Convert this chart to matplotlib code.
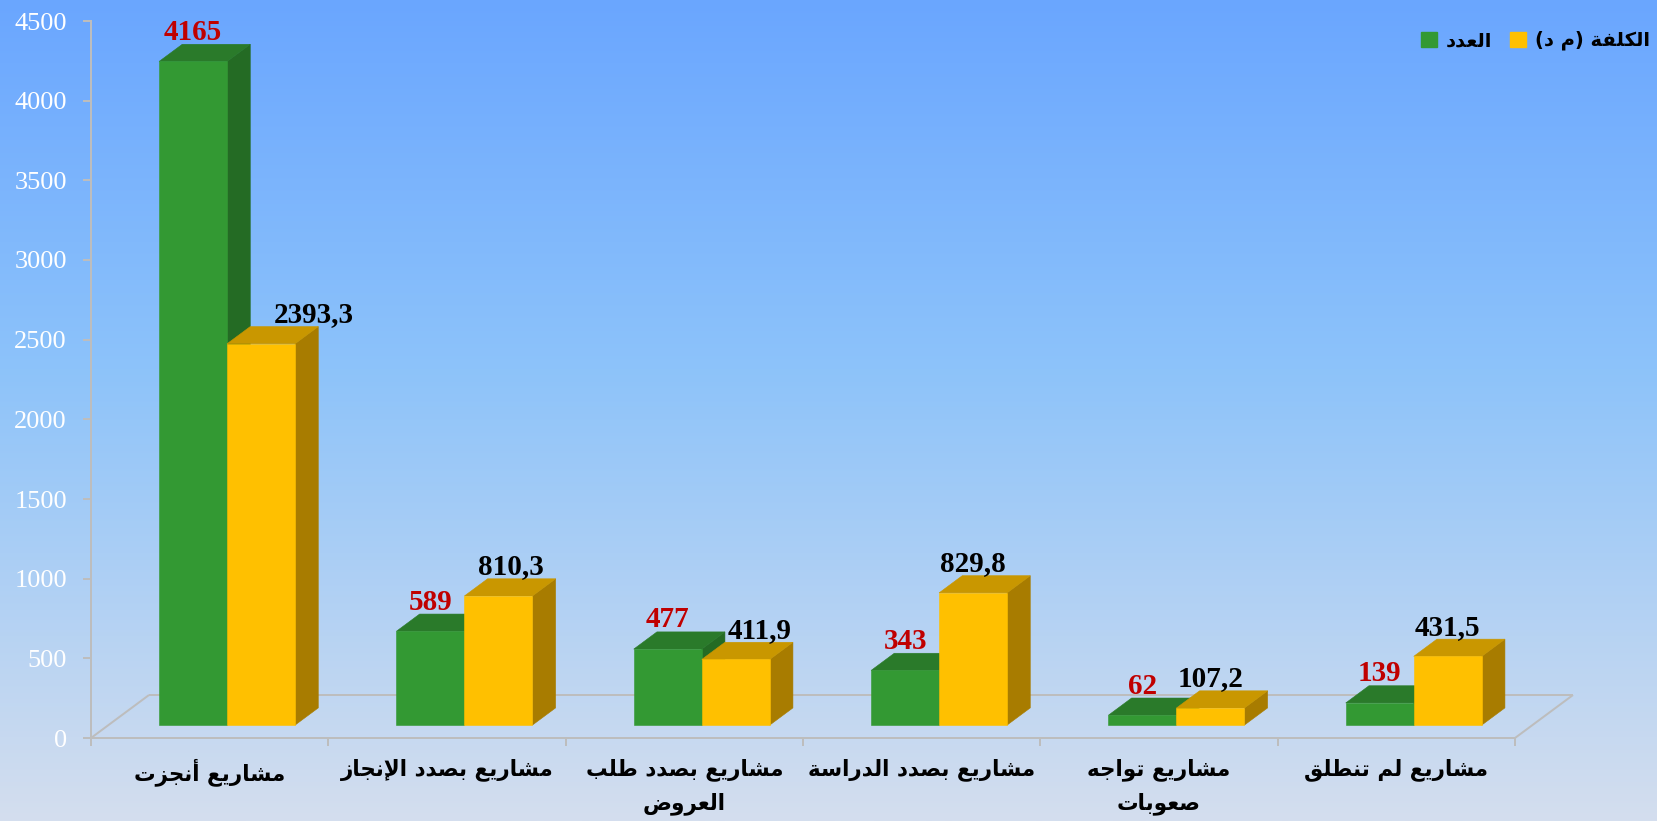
import numpy as np
import matplotlib
matplotlib.use("Agg")
import matplotlib.pyplot as plt
from matplotlib.patches import Polygon, Patch

# ---------------- data ----------------
categories = ["مشاريع أنجزت", "مشاريع بصدد الإنجاز", "مشاريع بصدد طلب\nالعروض",
              "مشاريع بصدد الدراسة", "مشاريع تواجه\nصعوبات", "مشاريع لم تنطلق"]
count_values = [4165, 589, 477, 343, 62, 139]
cost_values = [2393.3, 810.3, 411.9, 829.8, 107.2, 431.5]
count_name = "العدد"
cost_name = "الكلفة (م د)"
y_ticks = [0, 500, 1000, 1500, 2000, 2500, 3000, 3500, 4000, 4500]

# ---------------- Arabic shaping (display only) ----------------
_DUAL = {'\u0628': 0xFE8F, '\u062A': 0xFE95, '\u062B': 0xFE99, '\u062C': 0xFE9D,
         '\u062D': 0xFEA1, '\u062E': 0xFEA5, '\u0633': 0xFEB1, '\u0634': 0xFEB5,
         '\u0635': 0xFEB9, '\u0636': 0xFEBD, '\u0637': 0xFEC1, '\u0638': 0xFEC5,
         '\u0639': 0xFEC9, '\u063A': 0xFECD, '\u0641': 0xFED1, '\u0642': 0xFED5,
         '\u0643': 0xFED9, '\u0644': 0xFEDD, '\u0645': 0xFEE1, '\u0646': 0xFEE5,
         '\u0647': 0xFEE9, '\u064A': 0xFEF1}
_RIGHT = {'\u0622': 0xFE81, '\u0623': 0xFE83, '\u0625': 0xFE87, '\u0627': 0xFE8D,
          '\u0629': 0xFE93, '\u062F': 0xFEA9, '\u0630': 0xFEAB, '\u0631': 0xFEAD,
          '\u0632': 0xFEAF, '\u0648': 0xFEED, '\u0649': 0xFEEF}
FORMS = {}
for ch, b in _DUAL.items():
    FORMS[ch] = (chr(b), chr(b + 1), chr(b + 2), chr(b + 3))
for ch, b in _RIGHT.items():
    FORMS[ch] = (chr(b), chr(b + 1), None, None)
FORMS['\u0621'] = ('\uFE80', None, None, None)
LAM_ALEF = {'\u0622': ('\uFEF5', '\uFEF6'), '\u0623': ('\uFEF7', '\uFEF8'),
            '\u0625': ('\uFEF9', '\uFEFA'), '\u0627': ('\uFEFB', '\uFEFC')}


def _shape_line(s):
    toks = []
    i = 0
    while i < len(s):
        c = s[i]
        if c == '\u0644' and i + 1 < len(s) and s[i + 1] in LAM_ALEF:
            toks.append(('LA', s[i + 1]))
            i += 2
        else:
            toks.append((c, None))
            i += 1

    def can_join_next(t):
        if t[0] == 'LA':
            return False
        f = FORMS.get(t[0])
        return f is not None and f[2] is not None

    def can_join_prev(t):
        if t[0] == 'LA':
            return True
        f = FORMS.get(t[0])
        return f is not None and f[1] is not None

    out = []
    for k, t in enumerate(toks):
        prev_j = k > 0 and can_join_next(toks[k - 1]) and can_join_prev(t)
        next_j = k + 1 < len(toks) and can_join_next(t) and can_join_prev(toks[k + 1])
        if t[0] == 'LA':
            iso, fin = LAM_ALEF[t[1]]
            out.append(fin if prev_j else iso)
        elif t[0] in FORMS:
            iso, fin, ini, med = FORMS[t[0]]
            if prev_j and next_j:
                out.append(med)
            elif prev_j:
                out.append(fin)
            elif next_j:
                out.append(ini)
            else:
                out.append(iso)
        else:
            out.append(t[0])
    mirror = {'(': ')', ')': '('}
    return ''.join(mirror.get(c, c) for c in reversed(out))


def shape(s):
    return '\n'.join(_shape_line(line) for line in s.split('\n'))


# ---------------- styling ----------------
W, H, DPI = 1658, 821, 100
PT = 72.0 / DPI  # points per pixel
AX_L, AX_R, AX_T, AX_B = 91, 1515, 21, 738  # pixel box of front plane
FLOOR_DX, FLOOR_DY = 58, 43  # depth of the 3-D floor in pixels
BAR_FRONT, BAR_BACK = 0.3, 0.7  # bar depth as fraction of floor depth
BAR_W = 0.2865
GREEN = ('#339933', '#2A7A2A', '#246B24')  # front, top, side
YELLOW = ('#FFC000', '#C99700', '#A87C00')
AXIS_GREY = '#BDBDBD'
COST_LABEL_DX = [53, 12, 24, 0, 0, 0]  # pixel nudges of cost labels

fig = plt.figure(figsize=(W / DPI, H / DPI), dpi=DPI)

# gradient background
bg = fig.add_axes([0, 0, 1, 1], zorder=0)
stops_pos = [0.0, 0.45, 1.0]
stops_col = np.array([[106, 166, 255], [141, 195, 250], [212, 222, 238]]) / 255.0
yy = np.linspace(0, 1, 400)
grad = np.stack([np.interp(yy, stops_pos, stops_col[:, c]) for c in range(3)], axis=-1)
bg.imshow(grad[:, None, :], aspect='auto', extent=[0, 1, 0, 1], origin='upper')
bg.set_axis_off()

ax = fig.add_axes([AX_L / W, (H - AX_B) / H, (AX_R - AX_L) / W, (AX_B - AX_T) / H], zorder=1)
ax.patch.set_alpha(0)
n = len(categories)
ax.set_xlim(0, n)
ax.set_ylim(0, y_ticks[-1])

px_x = (AX_R - AX_L) / n
px_y = (AX_B - AX_T) / y_ticks[-1]
fdx, fdy = FLOOR_DX / px_x, FLOOR_DY / px_y

# floor outline
floor_kw = dict(color=AXIS_GREY, lw=2 * PT, clip_on=False, zorder=1, solid_capstyle='butt')
ax.plot([fdx, n + fdx], [fdy, fdy], **floor_kw)
ax.plot([0, fdx], [0, fdy], **floor_kw)
ax.plot([n, n + fdx], [0, fdy], **floor_kw)

for sp in ['top', 'right']:
    ax.spines[sp].set_visible(False)
for sp in ['left', 'bottom']:
    ax.spines[sp].set_color(AXIS_GREY)
    ax.spines[sp].set_linewidth(2 * PT)

ax.set_yticks(y_ticks)
ax.set_yticklabels([str(v) for v in y_ticks])
ax.tick_params(axis='y', length=8 * PT, width=2 * PT, color=AXIS_GREY, pad=16 * PT,
               labelcolor='white', labelsize=19)
for lab in ax.get_yticklabels():
    lab.set_family('Liberation Serif')
ax.set_xticks(range(n + 1))
ax.set_xticklabels([''] * (n + 1))
ax.tick_params(axis='x', length=8 * PT, width=2 * PT, color=AXIS_GREY)

ox, oy = BAR_FRONT * fdx, BAR_FRONT * fdy
ddx, ddy = (BAR_BACK - BAR_FRONT) * fdx, (BAR_BACK - BAR_FRONT) * fdy


def draw_bar(x0, v, cols):
    x1 = x0 + BAR_W
    front = [(x0 + ox, oy), (x1 + ox, oy), (x1 + ox, v + oy), (x0 + ox, v + oy)]
    top = [(x0 + ox, v + oy), (x1 + ox, v + oy), (x1 + ox + ddx, v + oy + ddy), (x0 + ox + ddx, v + oy + ddy)]
    side = [(x1 + ox, oy), (x1 + ox + ddx, oy + ddy), (x1 + ox + ddx, v + oy + ddy), (x1 + ox, v + oy)]
    for poly, c in ((side, cols[2]), (top, cols[1]), (front, cols[0])):
        ax.add_patch(Polygon(poly, closed=True, facecolor=c, edgecolor=c, lw=0.4,
                             clip_on=False, zorder=3))


def fmt(v):
    s = f"{v:.1f}" if isinstance(v, float) else str(v)
    return s.replace('.', ',')


for i in range(n):
    c = i + 0.5
    draw_bar(c - BAR_W, count_values[i], GREEN)
    draw_bar(c, cost_values[i], YELLOW)
    # value labels
    for x0, v, col, dx in ((c - BAR_W, count_values[i], '#C00000', 0),
                           (c, cost_values[i], 'black', COST_LABEL_DX[i])):
        ax.annotate(fmt(v), xy=(x0 + BAR_W / 2, v), xycoords='data',
                    xytext=((ox * px_x + dx) * PT, (FLOOR_DY * BAR_BACK + 12) * PT),
                    textcoords='offset points', ha='center', va='center',
                    fontsize=21, fontweight='bold', family='Liberation Serif',
                    color=col, zorder=5, annotation_clip=False)
    ax.annotate(shape(categories[i]), xy=(c, 0), xycoords='data',
                xytext=(0, -20 * PT), textcoords='offset points', ha='center', va='top',
                fontsize=15.5, fontweight='bold', family=['DejaVu Sans'], color='black',
                linespacing=1.65, annotation_clip=False)

handles = [Patch(facecolor=GREEN[0], edgecolor=GREEN[0]), Patch(facecolor=YELLOW[0], edgecolor=YELLOW[0])]
leg = ax.legend(handles, [shape(count_name), shape(cost_name)], ncol=2, frameon=False,
                loc='upper right', bbox_to_anchor=(1650 / W, 1 - 31 / H),
                bbox_transform=fig.transFigure, prop=dict(family='DejaVu Sans', weight='bold', size=14),
                handlelength=0.85, handleheight=0.85, handletextpad=0.45, columnspacing=0.9,
                borderpad=0, borderaxespad=0)

fig.savefig('out.png', dpi=DPI)
